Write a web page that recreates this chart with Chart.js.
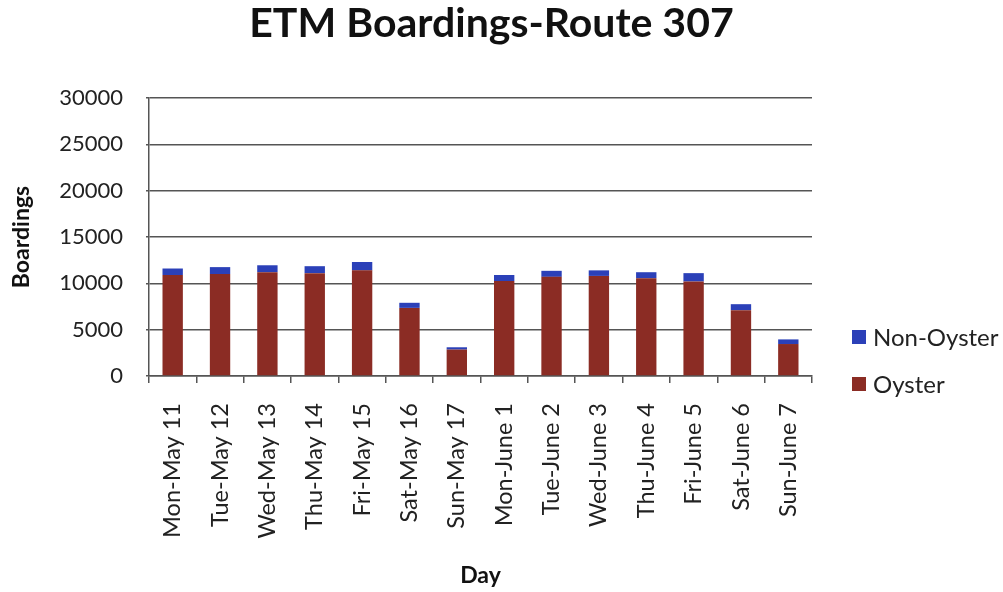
<!DOCTYPE html>
<html>
<head>
<meta charset="utf-8">
<script src="https://cdn.jsdelivr.net/npm/chart.js@4"></script>
<style>
html,body{margin:0;padding:0;background:#fff;}
#wrap{position:relative;width:1003px;height:592px;}
#title{position:absolute;left:0;top:0;width:983px;text-align:center;font-family:Lato,'Open Sans',sans-serif;font-weight:bold;font-size:41px;line-height:48px;color:#111;top:-2px;}
#legend{position:absolute;left:852px;top:313px;font-family:Lato,'Open Sans',sans-serif;font-size:24px;color:#222;}
.item{display:flex;align-items:center;height:47px;}
.sw{width:14px;height:14px;margin-right:7px;}
</style>
</head>
<body>
<div id="wrap">
<canvas id="c" width="1003" height="592"></canvas>
<div id="title">ETM Boardings-Route 307</div>
<div id="legend">
  <div class="item"><span class="sw" style="background:#2b40b8"></span>Non-Oyster</div>
  <div class="item"><span class="sw" style="background:#8b2c24"></span>Oyster</div>
</div>
</div>
<script>
const categories = ["Mon-May 11","Tue-May 12","Wed-May 13","Thu-May 14","Fri-May 15","Sat-May 16","Sun-May 17","Mon-June 1","Tue-June 2","Wed-June 3","Thu-June 4","Fri-June 5","Sat-June 6","Sun-June 7"];
const oyster = [10900,11000,11200,11100,11400,7350,2850,10250,10700,10800,10550,10200,7100,3450];
const nonOyster = [700,750,750,750,900,550,250,650,650,600,650,900,650,500];
const yTicks = [0,5000,10000,15000,20000,25000,30000];

const FONT = "Lato, 'Open Sans', sans-serif";
new Chart(document.getElementById('c'), {
  type: 'bar',
  data: {
    labels: categories,
    datasets: [
      {label:'Oyster', data: oyster, backgroundColor:'#8b2c24', borderWidth:0, categoryPercentage:1, barPercentage:0.43},
      {label:'Non-Oyster', data: nonOyster, backgroundColor:'#2b40b8', borderWidth:0, categoryPercentage:1, barPercentage:0.43}
    ]
  },
  options: {
    responsive:false,
    animation:false,
    layout:{padding:{left:0,right:191,top:98,bottom:0}},
    plugins:{
      legend:{display:false},
      tooltip:{enabled:false},
      title:{display:false}
    },
    scales:{
      x:{
        stacked:true,
        afterFit:(s)=>{s.height = 592-376;},
        grid:{offset:true,drawOnChartArea:false,color:'#555',tickLength:7,lineWidth:1.5},
        border:{color:'#555',width:1.5},
        ticks:{maxRotation:90,minRotation:90,color:'#222',font:{family:FONT,size:23.5},padding:20},
        title:{display:true,text:'Day',color:'#111',font:{family:FONT,size:23,weight:'bold'},padding:{top:0,bottom:3}}
      },
      y:{
        stacked:true,
        min:0,max:30000,
        afterFit:(s)=>{s.width = 149;},
        afterBuildTicks:(a)=>{a.ticks = yTicks.map(v=>({value:v}));},
        grid:{color:'#555',lineWidth:1.5,tickLength:3},
        border:{color:'#555',width:1.5},
        ticks:{color:'#222',font:{family:FONT,size:22},padding:23,callback:(v)=>String(v)},
        title:{display:true,text:'Boardings',color:'#111',font:{family:FONT,size:23,weight:'bold'},padding:{top:8,bottom:0}}
      }
    }
  }
});
</script>
</body>
</html>
